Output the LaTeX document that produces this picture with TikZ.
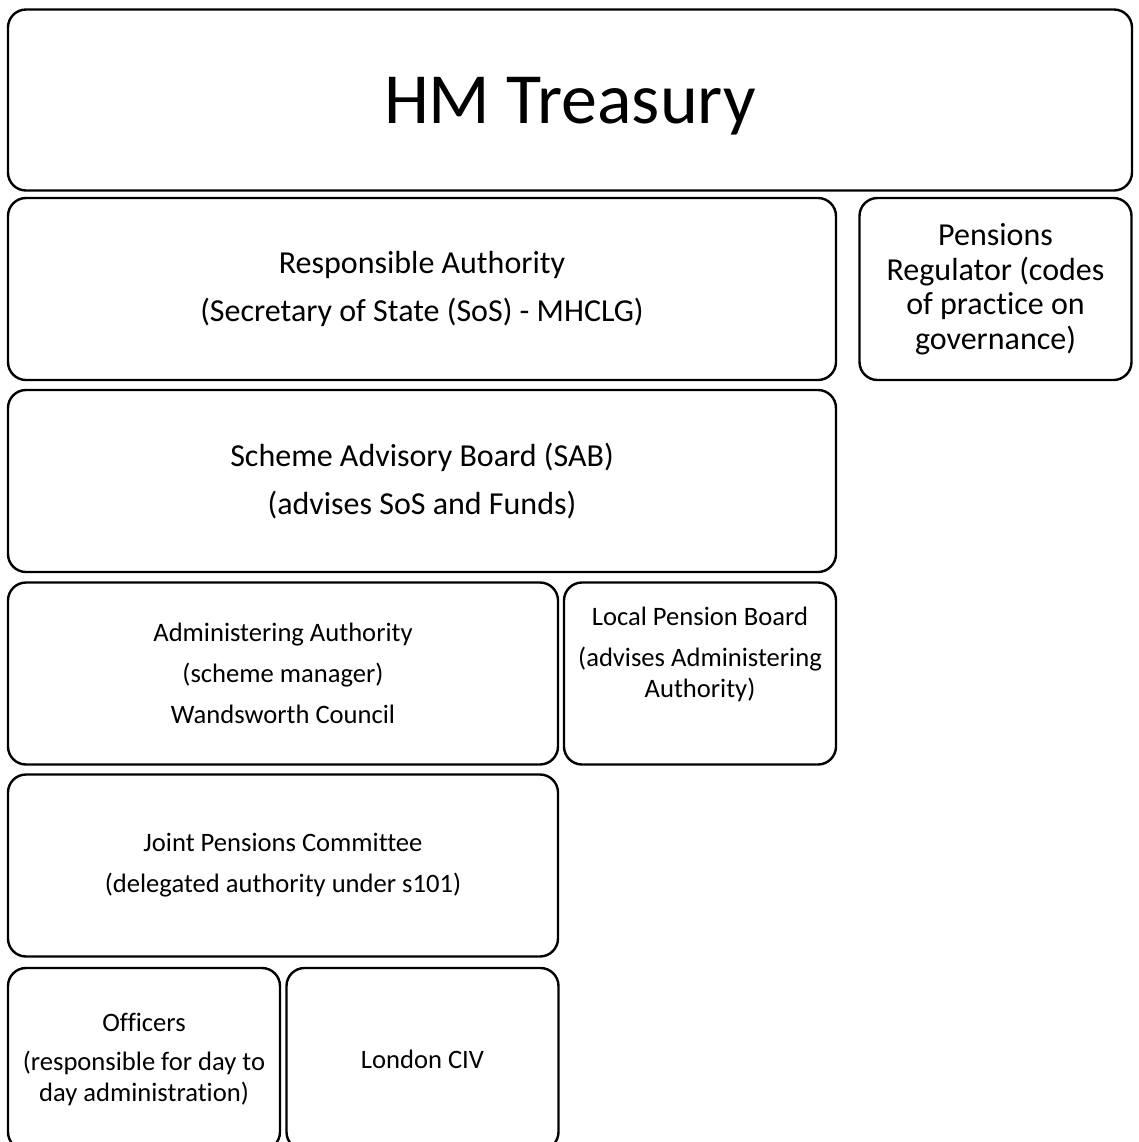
\documentclass[tikz,border=0pt]{standalone}
\usepackage{fontspec}
\setmainfont{Carlito}[Ligatures=NoCommon]
\usetikzlibrary{positioning}
\tikzset{
    orgbox/.style = {
        draw,
        shape=rectangle,
        rounded corners=9pt,
        line width=1.2pt,
        align=center,
        inner sep=0pt
    },
    widebox/.style = {
        orgbox,
        minimum width=414pt,
        minimum height=91pt,
        font=\fontsize{16}{18}\selectfont
    },
    halfbox/.style = {
        orgbox,
        minimum width=275pt,
        minimum height=91pt,
        font=\fontsize{13.3}{15.5}\selectfont
    },
    smallbox/.style = {
        orgbox,
        minimum width=136pt,
        minimum height=91pt,
        font=\fontsize{13.3}{15.5}\selectfont
    },
}
\begin{document}
\begin{tikzpicture}[x=0.5pt,y=-0.5pt]

    \useasboundingbox (0,0) rectangle (1139,1142);

    % top level
    \node[orgbox, minimum width=562pt, minimum height=90.5pt, text depth=0pt,
          font=\fontsize{36}{40}\selectfont] (treasury) at (570,100) {HM Treasury};

    % national level
    \node[widebox] (resp_auth) at (422,289)
        {Responsible Authority\\[6pt](Secretary of State (SoS) - MHCLG)};
    \node[smallbox, font=\fontsize{16}{17.25}\selectfont] (regulator) at (995.5,289)
        {Pensions\\Regulator (codes\\of practice on\\governance)};
    \node[widebox] (sab) at (422,481)
        {Scheme Advisory Board (SAB)\\[6pt](advises SoS and Funds)};

    % fund level
    \node[halfbox] (admin_auth) at (283,673.5)
        {Administering Authority\\[5pt](scheme manager)\\[5pt]Wandsworth Council};
    \node[smallbox] (local_board) at (700,673.5)
        {Local Pension Board\\[5pt](advises Administering\\Authority)\\[6pt]\mbox{}};
    \node[halfbox] (joint_cttee) at (283,865.5)
        {Joint Pensions Committee\\[5pt](delegated authority under s101)};

    % delivery
    \node[smallbox] (officers) at (144,1059)
        {Officers\\[4pt](responsible for day to\\day administration)};
    \node[smallbox] (london_civ) at (422.5,1059) {London CIV};

\end{tikzpicture}
\end{document}
